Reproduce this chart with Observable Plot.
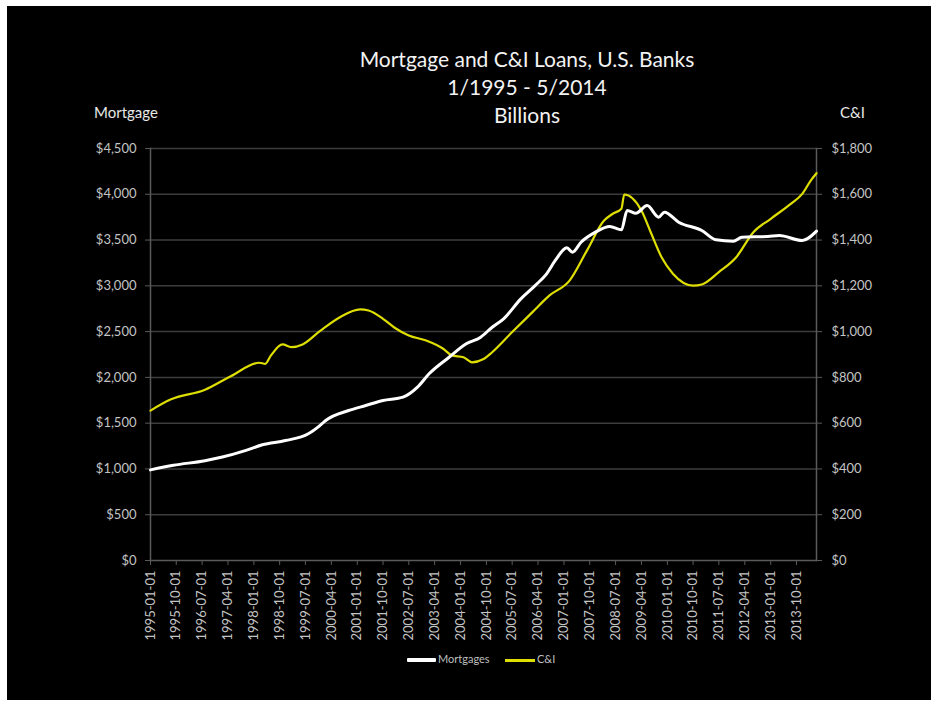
<!DOCTYPE html>
<html>
<head>
<meta charset="utf-8">
<script src="https://cdn.jsdelivr.net/npm/d3@7"></script>
<script src="https://cdn.jsdelivr.net/npm/@observablehq/plot@0.6"></script>
<style>
  html, body { margin: 0; padding: 0; background: #fff; }
  #wrap { position: relative; width: 938px; height: 707px; overflow: hidden; font-family: Lato, "Open Sans", sans-serif; }
  #bg { position: absolute; left: 7px; top: 6px; width: 924px; height: 694px; background: #000; }
  .t { position: absolute; color: #f2f2f2; white-space: nowrap; }
  .title { left: 277px; width: 500px; text-align: center; font-size: 21px; line-height: 26px; }
  .axt { font-size: 15px; top: 103px; color: #e8e8e8; }
  #chart { position: absolute; left: 0; top: 0; }
  .leg { position: absolute; top: 652px; font-size: 11px; color: #bfbfbf; line-height: 14px; }
  .sw { position: absolute; }
</style>
</head>
<body>
<div id="wrap">
  <div id="bg"></div>
  <div class="t title" style="top:46px">Mortgage and C&amp;I Loans, U.S. Banks</div>
  <div class="t title" style="top:74px">1/1995 - 5/2014</div>
  <div class="t title" style="top:102px">Billions</div>
  <div class="t axt" style="left:94px">Mortgage</div>
  <div class="t axt" style="left:840px">C&amp;I</div>
  <div id="chart"></div>
  <div class="sw" style="left:407px;top:658px;width:29px;height:4px;background:#ffffff;border-radius:1px"></div>
  <div class="leg" style="left:438px">Mortgages</div>
  <div class="sw" style="left:505px;top:659px;width:30px;height:3px;background:#dede00"></div>
  <div class="leg" style="left:537px">C&amp;I</div>
</div>
<script>
// Mortgage loans (billions USD)
const mortDates = [
  "1995-01","1995-09","1996-08","1997-02","1997-10","1998-04","1998-12","1999-08","1999-12",
  "2000-02","2000-10","2001-04","2001-10","2002-05","2002-10","2003-02","2003-09","2004-03",
  "2004-08","2004-12","2005-04","2005-10","2006-03","2006-07","2006-10","2007-02","2007-04",
  "2007-07","2007-12","2008-05","2008-09","2008-11","2009-02","2009-06","2009-10","2009-12",
  "2010-05","2011-01","2011-06","2011-12","2012-03","2012-12","2013-04","2013-12","2014-05"
];
const mortValues = [
  990, 1040, 1090, 1130, 1200, 1264, 1310, 1384, 1474,
  1529, 1638, 1693, 1748, 1784, 1893, 2039, 2220, 2367,
  2439, 2548, 2640, 2858, 3003, 3131, 3277, 3415, 3367,
  3476, 3586, 3648, 3612, 3823, 3793, 3877, 3750, 3805,
  3695, 3604, 3503, 3488, 3531, 3539, 3550, 3495, 3597
];

// C&I loans (billions USD)
const ciDates = [
  "1995-01","1995-08","1996-08","1997-05","1998-03","1998-05","1998-07","1998-11","1999-02",
  "1999-06","1999-12","2000-07","2001-02","2001-05","2001-10","2002-02","2002-07","2003-01",
  "2003-07","2003-10","2004-02","2004-05","2004-09","2004-12","2005-07","2006-02","2006-08",
  "2007-03","2007-09","2008-03","2008-06","2008-09","2008-10","2009-04","2009-07","2009-11",
  "2010-03","2010-10","2011-01","2011-07","2012-01","2012-07","2013-01","2013-08","2013-12",
  "2014-03","2014-05"
];
const ciValues = [
  655, 703, 746, 805, 864, 859, 896, 944, 932,
  944, 1002, 1063, 1097, 1092, 1056, 1017, 983, 961,
  925, 896, 888, 866, 880, 910, 998, 1085, 1158,
  1223, 1354, 1485, 1515, 1537, 1599, 1529, 1442, 1325,
  1253, 1201, 1206, 1260, 1325, 1434, 1493, 1558, 1602,
  1660, 1692
];

// Axis ticks
const xTickLabels = [
  "1995-01-01","1995-10-01","1996-07-01","1997-04-01","1998-01-01","1998-10-01","1999-07-01",
  "2000-04-01","2001-01-01","2001-10-01","2002-07-01","2003-04-01","2004-01-01","2004-10-01",
  "2005-07-01","2006-04-01","2007-01-01","2007-10-01","2008-07-01","2009-04-01","2010-01-01",
  "2010-10-01","2011-07-01","2012-04-01","2013-01-01","2013-10-01"
];
const mortTicks = [0, 500, 1000, 1500, 2000, 2500, 3000, 3500, 4000, 4500];
const ciTicks = [0, 200, 400, 600, 800, 1000, 1200, 1400, 1600, 1800];

const ratio = 4500 / 1800; // right axis mapped onto left axis scale
const parse = s => new Date(s + "-01T00:00:00Z");
const mort = mortDates.map((d, i) => ({date: parse(d), v: mortValues[i]}));
const ci = ciDates.map((d, i) => ({date: parse(d), v: ciValues[i]}));
const money = d3.format(",");

const chart = Plot.plot({
  width: 938,
  height: 707,
  marginLeft: 150,
  marginRight: 122,
  marginTop: 148,
  marginBottom: 147,
  style: {background: "transparent", color: "#c4c4c4", fontFamily: "Lato, 'Open Sans', sans-serif", fontSize: "13px"},
  x: {type: "utc", domain: [parse("1995-01"), parse("2014-05")]},
  y: {domain: [0, 4500]},
  marks: [
    Plot.ruleY(mortTicks.slice(1), {stroke: "#3d3d3d", strokeWidth: 1.5}),
    Plot.frame({anchor: "left", stroke: "#5a5a5a", strokeWidth: 1.5}),
    Plot.frame({anchor: "right", stroke: "#5a5a5a", strokeWidth: 1.5}),
    Plot.frame({anchor: "bottom", stroke: "#5a5a5a", strokeWidth: 1.5}),
    Plot.axisY({
      anchor: "left", ticks: mortTicks, tickSize: 5, tickPadding: 9,
      tickFormat: d => "$" + money(d), label: null, stroke: "#5a5a5a"
    }),
    Plot.axisY({
      anchor: "right", ticks: ciTicks.map(v => v * ratio), tickSize: 5, tickPadding: 10,
      tickFormat: d => "$" + money(Math.round(d / ratio)), label: null, stroke: "#5a5a5a"
    }),
    Plot.axisX({
      anchor: "bottom", ticks: xTickLabels.map(s => new Date(s + "T00:00:00Z")),
      tickFormat: d3.utcFormat("%Y-%m-%d"), tickRotate: -90, tickSize: 5, tickPadding: 5,
      label: null, stroke: "#5a5a5a", fontSize: 13
    }),
    Plot.line(ci, {x: "date", y: d => d.v * ratio, stroke: "#dede00", strokeWidth: 2.2, strokeLinejoin: "round", curve: "monotone-x"}),
    Plot.line(mort, {x: "date", y: "v", stroke: "#ffffff", strokeWidth: 3, strokeLinejoin: "round", curve: "monotone-x"})
  ]
});
document.getElementById("chart").appendChild(chart);
</script>
</body>
</html>
